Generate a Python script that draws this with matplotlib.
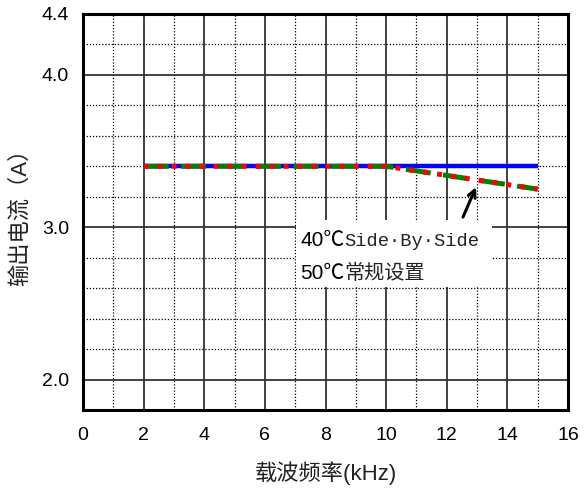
import matplotlib
matplotlib.use("Agg")
import matplotlib.pyplot as plt
from matplotlib.ticker import MultipleLocator, FixedLocator

# 数据
freq = [2, 4, 6, 8, 10, 12, 14, 15]
cur_std = [3.4, 3.4, 3.4, 3.4, 3.4, 3.4, 3.4, 3.4]
cur_40_sbs = [3.4, 3.4, 3.4, 3.4, 3.4, 3.34, 3.28, 3.25]
cur_50_std = [3.4, 3.4, 3.4, 3.4, 3.4, 3.34, 3.28, 3.25]
y_ticks = [2.0, 3.0, 4.0, 4.4]
x_ticks = [0, 2, 4, 6, 8, 10, 12, 14, 16]
note_lines = [("40℃", "Side·By·Side"), ("50℃", "常规设置")]

sans = ["Liberation Sans", "Noto Sans CJK SC", "DejaVu Sans"]
plt.rcParams["font.family"] = sans

fig = plt.figure(figsize=(5.85, 4.94), dpi=100)
ax = fig.add_axes([83 / 585, 1 - 410 / 494, 485 / 585, 396 / 494])

# 曲线
ax.plot(freq, cur_std, color="#0000ff", lw=3.2, solid_capstyle="butt", zorder=3)
ax.plot(freq, cur_40_sbs, color="#008000", lw=3.6, dashes=(5, 2.5), zorder=4)
ax.plot(freq, cur_50_std, color="#ff0000", lw=3.6, dashes=(1, 1.8), zorder=5)

ax.set_xlim(0, 16)
ax.set_ylim(1.8, 4.4)
ax.xaxis.set_major_locator(FixedLocator(x_ticks))
ax.xaxis.set_minor_locator(MultipleLocator(1))
ax.yaxis.set_major_locator(FixedLocator(y_ticks))
ax.yaxis.set_minor_locator(MultipleLocator(0.2))
ax.set_yticklabels([f"{v:.1f}" for v in y_ticks])

ax.grid(which="major", color="#333333", lw=1.3, ls="-")
ax.grid(which="minor", color="black", lw=0.9, ls=(0, (1, 1.5)))
ax.set_axisbelow(True)
ax.tick_params(which="both", length=0, labelsize=14)
ax.tick_params(axis="x", pad=12)
ax.tick_params(axis="y", pad=10)

for s in ax.spines.values():
    s.set_linewidth(2.2)
    s.set_zorder(6)

ax.set_xlabel("载波频率(kHz)", fontsize=16, labelpad=13, color="#222222")
ax.set_ylabel("输出电流（A）", fontsize=16, labelpad=8, color="#222222")

# 说明框
ax.fill_between([7.02, 13.5], 2.61, 3.05, color="white", zorder=2.5, lw=0)
ax.annotate("", xy=(13.0, 3.28), xytext=(12.5, 3.05),
            arrowprops=dict(arrowstyle="->", color="black", lw=2.2, mutation_scale=13),
            zorder=6)

for i, (t1, t2) in enumerate(note_lines):
    y = 2.875 - i * 0.215
    t = ax.text(7.16, y, t1, fontsize=15, va="baseline", zorder=7)
    fig.canvas.draw()
    bb = t.get_window_extent().transformed(ax.transData.inverted())
    ax.text(bb.x1, y, t2, fontsize=13.5 if i == 0 else 14.5, va="baseline", zorder=7,
            family=["Liberation Mono", "Noto Sans CJK SC"], color="#222222")

fig.savefig("out.png", dpi=100)
